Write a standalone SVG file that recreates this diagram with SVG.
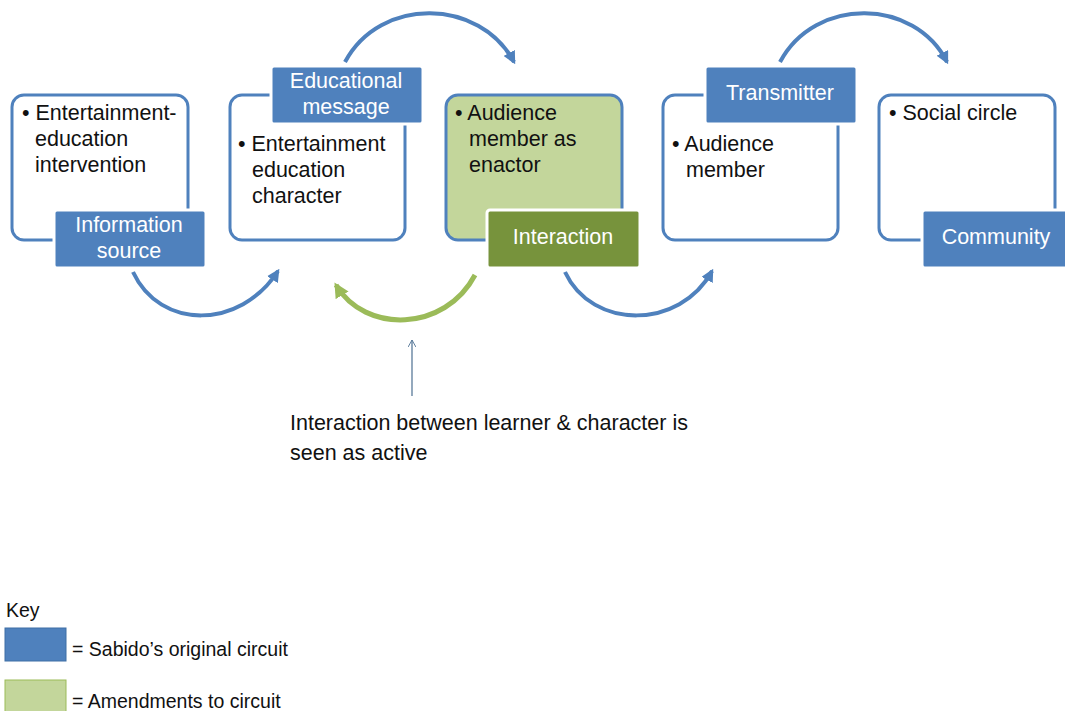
<svg xmlns="http://www.w3.org/2000/svg" width="1065" height="711" viewBox="0 0 1065 711">
<defs>
<style>
.box{fill:#fff;stroke:#4f81bd;stroke-width:3}
.boxg{fill:#c3d69b;stroke:#4f81bd;stroke-width:3}
.lab{fill:#4f81bd;stroke:#fff;stroke-width:3}
.labg{fill:#77933c;stroke:#fff;stroke-width:3}
.t{font-family:"Liberation Sans",Arial,sans-serif;font-size:21.5px;fill:#111}
.w{font-family:"Liberation Sans",Arial,sans-serif;font-size:21.5px;fill:#fff;text-anchor:middle}
.n{font-family:"Liberation Sans",Arial,sans-serif;font-size:21.5px;fill:#111}
.k{font-family:"Liberation Sans",Arial,sans-serif;font-size:19.5px;fill:#111}
.arc{fill:none;stroke:#4f81bd;stroke-width:4}
.arcg{fill:none;stroke:#9bbb59;stroke-width:5}
</style>
<marker id="ab" viewBox="0 0 10 10" refX="8" refY="5" markerWidth="3.2" markerHeight="3.2" orient="auto" markerUnits="strokeWidth"><path d="M0,0 L10,5 L0,10 z" fill="#4f81bd"/></marker>
<marker id="ag" viewBox="0 0 10 10" refX="8" refY="5" markerWidth="3" markerHeight="3" orient="auto" markerUnits="strokeWidth"><path d="M0,0 L10,5 L0,10 z" fill="#9bbb59"/></marker>
<marker id="av" viewBox="0 0 10 10" refX="9" refY="5" markerWidth="8" markerHeight="8" orient="auto" markerUnits="userSpaceOnUse"><path d="M0,0 L9,5 L0,10" fill="none" stroke="#5a7a9a" stroke-width="1.2"/></marker>
</defs>
<rect width="1065" height="711" fill="#fff"/>
<g id="connectors">
<path class="arc" d="M133,272 C160,330 240,330 278,271" marker-end="url(#ab)"/>
<path class="arc" d="M345,62 C380,-4 480,-2 514,62" marker-end="url(#ab)"/>
<path class="arcg" d="M475,275 C445,332 365,334 336,285" marker-end="url(#ag)"/>
<path class="arc" d="M565,272 C592,330 680,330 712,271" marker-end="url(#ab)"/>
<path class="arc" d="M780,62 C815,-4 915,-2 947,62" marker-end="url(#ab)"/>
<line x1="412" y1="396" x2="412" y2="340" stroke="#5a7a9a" stroke-width="1.3" marker-end="url(#av)"/>
</g>
<g id="node-information-source">
<rect class="box" x="12" y="95" width="176" height="145" rx="12"/>
<text class="t" x="22" y="120">• Entertainment-</text>
<text class="t" x="35" y="146">education</text>
<text class="t" x="35" y="172">intervention</text>
<rect class="lab" x="54" y="210" width="152" height="58" rx="3"/>
<text class="w" x="129" y="232">Information</text>
<text class="w" x="129" y="258">source</text>
</g>
<g id="node-educational-message">
<rect class="box" x="230" y="95" width="175" height="145" rx="12"/>
<text class="t" x="238" y="151">• Entertainment</text>
<text class="t" x="252" y="177">education</text>
<text class="t" x="252" y="203">character</text>
<rect class="lab" x="271" y="66" width="152" height="58" rx="3"/>
<text class="w" x="346" y="88">Educational</text>
<text class="w" x="346" y="114">message</text>
</g>
<g id="node-interaction">
<rect class="boxg" x="446" y="95" width="176" height="145" rx="12"/>
<text class="t" x="455" y="120">• Audience</text>
<text class="t" x="469" y="146">member as</text>
<text class="t" x="469" y="172">enactor</text>
<rect class="labg" x="487" y="210" width="153" height="58" rx="3"/>
<text class="w" x="563" y="244">Interaction</text>
</g>
<g id="node-transmitter">
<rect class="box" x="663" y="95" width="175" height="145" rx="12"/>
<text class="t" x="672" y="151">• Audience</text>
<text class="t" x="686" y="177">member</text>
<rect class="lab" x="705" y="66" width="152" height="58" rx="3"/>
<text class="w" x="780" y="100">Transmitter</text>
</g>
<g id="node-community">
<rect class="box" x="879" y="95" width="176" height="145" rx="12"/>
<text class="t" x="889" y="120">• Social circle</text>
<rect class="lab" x="922" y="210" width="150" height="58" rx="3"/>
<text class="w" x="996" y="244">Community</text>
</g>
<g id="note">
<text class="n" x="290" y="430">Interaction between learner &amp; character is</text>
<text class="n" x="290" y="460">seen as active</text>
</g>
<g id="key">
<text class="k" x="6" y="617">Key</text>
<rect x="5" y="628" width="61" height="33" fill="#4f81bd" stroke="#3f6fa5" stroke-width="1"/>
<text class="k" x="72" y="656">= Sabido’s original circuit</text>
<rect x="5" y="680" width="61" height="33" fill="#c3d69b" stroke="#9bbb59" stroke-width="1"/>
<text class="k" x="72" y="708">= Amendments to circuit</text>
</g>
</svg>
